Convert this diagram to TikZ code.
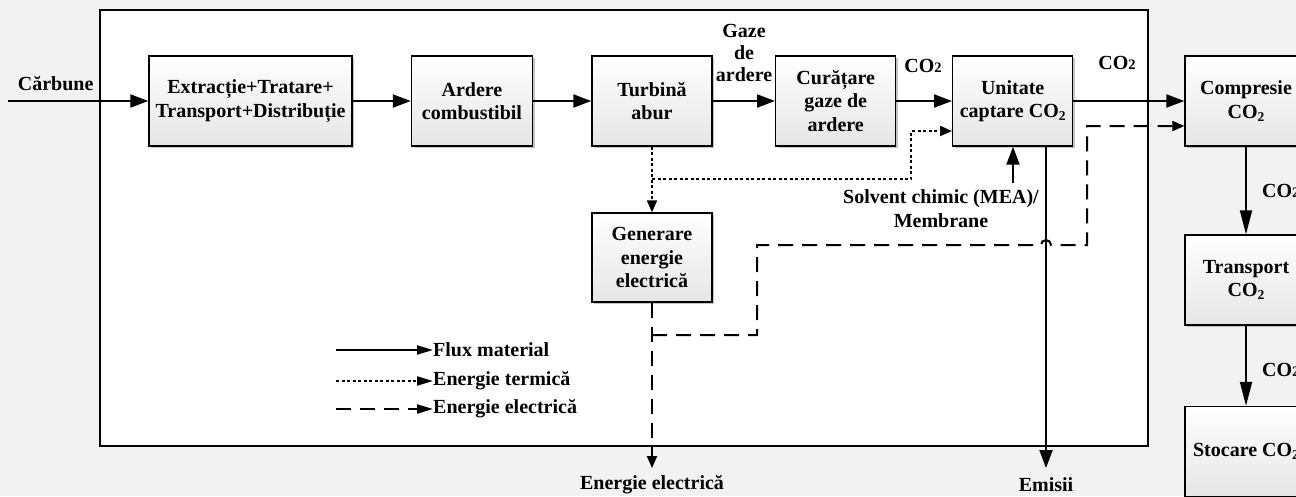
\documentclass[tikz,border=0pt]{standalone}
\usepackage{fontspec}
\setmainfont{Liberation Serif}
\usetikzlibrary{arrows.meta,shadows,calc}
\definecolor{bgc}{HTML}{F2F2F2}
\newcommand{\cosub}{CO\raisebox{-0.3ex}{\fontsize{13.5}{13.5}\selectfont 2}}
\newcommand{\colab}{CO{\fontsize{14.5}{14.5}\selectfont 2}}
\begin{document}
\begin{tikzpicture}[x=1pt,y=-1pt,
  every node/.style={font=\bfseries\fontsize{20}{23.5}\selectfont, inner sep=0pt, align=center},
  box/.style={draw=black, line width=1.4pt, top color=white, bottom color=black!10,
    drop shadow={shadow xshift=2pt,shadow yshift=-2pt,fill=black!45,opacity=0.5},
    minimum height=90pt, minimum width=120pt},
  flow/.style={line width=2pt, -{Triangle[length=18pt,width=13pt]}},
  flowlong/.style={line width=2pt, -{Triangle[length=24pt,width=12pt]}},
  thermal/.style={line width=2pt, dash pattern=on 3pt off 2.5pt, -{Triangle[length=12pt,width=10pt]}},
  elec/.style={line width=2pt, dash pattern=on 15pt off 9pt, -{Triangle[length=12pt,width=10pt]}},
  legsolid/.style={line width=2pt, -{Triangle[length=16pt,width=9pt]}},
  legthermal/.style={line width=2pt, dash pattern=on 3pt off 2.5pt, -{Triangle[length=16pt,width=9pt]}},
  legelec/.style={line width=2pt, dash pattern=on 15pt off 9pt, -{Triangle[length=16pt,width=9pt]}},
  lbl/.style={}
]
\useasboundingbox[fill=bgc] (0,0) rectangle (1296,496);
\draw[fill=white, line width=1.6pt] (100,10) rectangle (1148,446);

% boxes
\node[box, minimum width=203pt] (ext) at (250.5,101) {Extracție+Tratare+\\Transport+Distribuție};
\node[box, minimum width=121pt] (ard) at (472,101) {Ardere\\combustibil};
\node[box] (tur) at (652,101) {Turbină\\abur};
\node[box] (cur) at (835.7,101) {Curățare\\gaze de\\ardere};
\node[box] (uni) at (1012.7,101) {Unitate\\captare \cosub};
\node[box, minimum width=122pt] (com) at (1246,101) {Compresie\\\cosub};
\node[box, minimum width=122pt] (tra) at (1246,280) {Transport\\\cosub};
\node[box, minimum width=122pt] (sto) at (1246,451.5) {Stocare \cosub};
\node[box, minimum height=89pt] (gen) at (652,257.5) {Generare\\energie\\electrică};

% labels
\node[lbl] (carblbl) at (55.7,84) {Cărbune};
\node[lbl, font=\bfseries\fontsize{20}{22}\selectfont] (gazlbl) at (744,53) {Gaze\\de\\ardere};
\node[lbl] (co2a) at (923,66) {\colab};
\node[lbl] (co2b) at (1117,63) {\colab};
\node[lbl, anchor=west] (co2c) at (1262,191) {\colab};
\node[lbl, anchor=west] (co2d) at (1262,370) {\colab};
\node[lbl] (solvlbl) at (941,208.5) {Solvent chimic (MEA)/\\Membrane};
\node[lbl] (eellbl) at (652,485) {Energie electrică};
\node[lbl] (emislbl) at (1046,485) {Emisii};

% coordinates
\coordinate (carb) at (8,101);
\coordinate (th1) at (652,179);
\coordinate (th2) at (911,131);
\coordinate (solv) at (1013,183);
\coordinate (emisend) at (1046,468);
\coordinate (eout) at (652,468);
\coordinate (el1) at (652,335);
\coordinate (el2) at (757,245);
\coordinate (el3) at (1087,126);

% material flow
\draw[flow] (carb) -- (ext.west);
\draw[flow] (ext.east) -- (ard.west);
\draw[flow] (ard.east) -- (tur.west);
\draw[flow] (tur.east) -- (cur.west);
\draw[flow] (cur.east) -- (uni.west);
\draw[flow] (uni.east) -- (com.west);
\draw[flowlong] (com.south) -- (tra.north);
\draw[flowlong] (tra.south) -- (sto.north);
\draw[flow] (solv) -- (solv |- uni.south);
\draw[flow] (uni.south -| emisend) -- (emisend);

% thermal
\draw[thermal] (tur.south) -- (gen.north);
\draw[thermal] (th1) -| (th2) -- (th2 -| uni.west);

% electric
\draw[elec] (gen.south) -- (eout);
\draw[elec] (el1) -| (el2) -- (1041,245) arc[start angle=180,end angle=0,radius=5pt] -- (el3 |- el2) -- (el3) -- (el3 -| com.west);

% legend
\coordinate (lg1a) at (336,350); \coordinate (lg1b) at (433,350);
\coordinate (lg2a) at (336,381); \coordinate (lg2b) at (433,381);
\coordinate (lg3a) at (336,409); \coordinate (lg3b) at (433,409);
\draw[legsolid] (lg1a) -- (lg1b);
\draw[legthermal] (lg2a) -- (lg2b);
\draw[legelec] (lg3a) -- (lg3b);
\node[lbl, anchor=west] (leg1) at (lg1b) {Flux material};
\node[lbl, anchor=west] (leg2) at (lg2b) {Energie termică};
\node[lbl, anchor=west] (leg3) at (lg3b) {Energie electrică};
\end{tikzpicture}
\end{document}
